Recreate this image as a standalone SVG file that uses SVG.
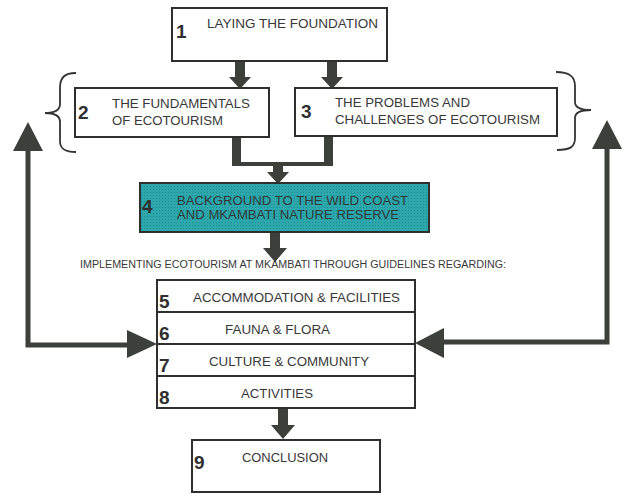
<svg xmlns="http://www.w3.org/2000/svg" width="626" height="494" viewBox="0 0 626 494">
<style>
.box{fill:#fff;stroke:#2f302e;stroke-width:2}
.t{font-family:"Liberation Sans",Arial,sans-serif;font-size:12.5px;fill:#383838}
.n{font-family:"Liberation Sans",Arial,sans-serif;font-size:19px;font-weight:bold;fill:#2f2f2f}
.arr{fill:#3c3f3a}
.ln{fill:none;stroke:#3c3f3a;stroke-width:5}
.br{fill:none;stroke:#333;stroke-width:1.8}
</style>
<defs>
<pattern id="dots" width="3" height="3" patternUnits="userSpaceOnUse">
<rect width="3" height="3" fill="#2ca8ac"/>
<rect width="1" height="1" fill="#1f8a90"/>
</pattern>
</defs>
<rect width="626" height="494" fill="#fff"/>
<g id="connectors">
<polygon class="arr" points="235,61 245,61 245,77 251,77 240,89 229,77 235,77"/>
<polygon class="arr" points="327,61 337,61 337,77 343,77 332,89 321,77 327,77"/>
<path class="arr" d="M232,137 H241 V162 H324 V137 H333 V166 H283 V172 H289 L278,184 L267,172 H273 V166 H232 Z"/>
<polygon class="arr" points="270,232 280,232 280,248 287,248 275,262 263,248 270,248"/>
<polygon class="arr" points="278,408 288,408 288,425 295,425 283,439 271,425 278,425"/>
<polyline class="ln" points="28,148 28,345 130,345"/>
<polygon class="arr" points="28,122 43,151 13,151"/>
<polygon class="arr" points="157,344 127,330 127,358"/>
<polyline class="ln" points="607,146 607,342 440,342"/>
<polygon class="arr" points="607,120 622,149 592,149"/>
<polygon class="arr" points="415,343 444,328 444,358"/>
<path class="br" d="M76,73 C64,73 60,78 60,88 V104 C60,110 54,113 45,113 C54,113 60,116 60,122 V141 C60,149 65,152 76,152"/>
<path class="br" d="M556,72 C569,72 575,76 575,86 V102 C575,107 581,110 591,110 C581,110 575,113 575,118 V138 C575,147 570,150 557,150"/>
</g>
<g id="node1">
<rect class="box" x="172" y="8" width="215" height="53"/>
<text class="n" x="176" y="38">1</text>
<text class="t" x="207" y="28" textLength="171" lengthAdjust="spacingAndGlyphs">LAYING THE FOUNDATION</text>
</g>
<g id="node2">
<rect class="box" x="75" y="88" width="194" height="49"/>
<text class="n" x="78" y="119">2</text>
<text class="t" x="112" y="108" textLength="138" lengthAdjust="spacingAndGlyphs">THE FUNDAMENTALS</text>
<text class="t" x="112" y="125" textLength="111" lengthAdjust="spacingAndGlyphs">OF ECOTOURISM</text>
</g>
<g id="node3">
<rect class="box" x="295" y="88" width="262" height="48"/>
<text class="n" x="301" y="118">3</text>
<text class="t" x="335" y="107" textLength="135" lengthAdjust="spacingAndGlyphs">THE PROBLEMS AND</text>
<text class="t" x="335" y="124" textLength="205" lengthAdjust="spacingAndGlyphs">CHALLENGES OF ECOTOURISM</text>
</g>
<g id="node4">
<rect x="140" y="183" width="289" height="49" fill="url(#dots)" stroke="#2f302e" stroke-width="2"/>
<text class="n" x="142" y="213">4</text>
<text class="t" x="177" y="205" textLength="231" lengthAdjust="spacingAndGlyphs" style="fill:#2e3a3a">BACKGROUND TO THE WILD COAST</text>
<text class="t" x="177" y="219" textLength="222" lengthAdjust="spacingAndGlyphs" style="fill:#2e3a3a">AND MKAMBATI NATURE RESERVE</text>
</g>
<g id="label">
<text class="t" x="80" y="268" style="font-size:10px" textLength="426" lengthAdjust="spacingAndGlyphs">IMPLEMENTING ECOTOURISM AT MKAMBATI THROUGH GUIDELINES REGARDING:</text>
</g>
<g id="node5">
<rect class="box" x="157" y="280" width="258" height="32"/>
<text class="n" x="159" y="308">5</text>
<text class="t" x="193" y="302" textLength="207" lengthAdjust="spacingAndGlyphs">ACCOMMODATION &amp; FACILITIES</text>
</g>
<g id="node6">
<rect class="box" x="157" y="312" width="258" height="32"/>
<text class="n" x="159" y="340">6</text>
<text class="t" x="225" y="334" textLength="105" lengthAdjust="spacingAndGlyphs">FAUNA &amp; FLORA</text>
</g>
<g id="node7">
<rect class="box" x="157" y="344" width="258" height="32"/>
<text class="n" x="159" y="372">7</text>
<text class="t" x="209" y="366" textLength="160" lengthAdjust="spacingAndGlyphs">CULTURE &amp; COMMUNITY</text>
</g>
<g id="node8">
<rect class="box" x="157" y="376" width="258" height="32"/>
<text class="n" x="159" y="404">8</text>
<text class="t" x="241" y="398" textLength="72" lengthAdjust="spacingAndGlyphs">ACTIVITIES</text>
</g>
<g id="node9">
<rect class="box" x="192" y="440" width="188" height="52"/>
<text class="n" x="194" y="469">9</text>
<text class="t" x="242" y="462" textLength="86" lengthAdjust="spacingAndGlyphs">CONCLUSION</text>
</g>
</svg>
